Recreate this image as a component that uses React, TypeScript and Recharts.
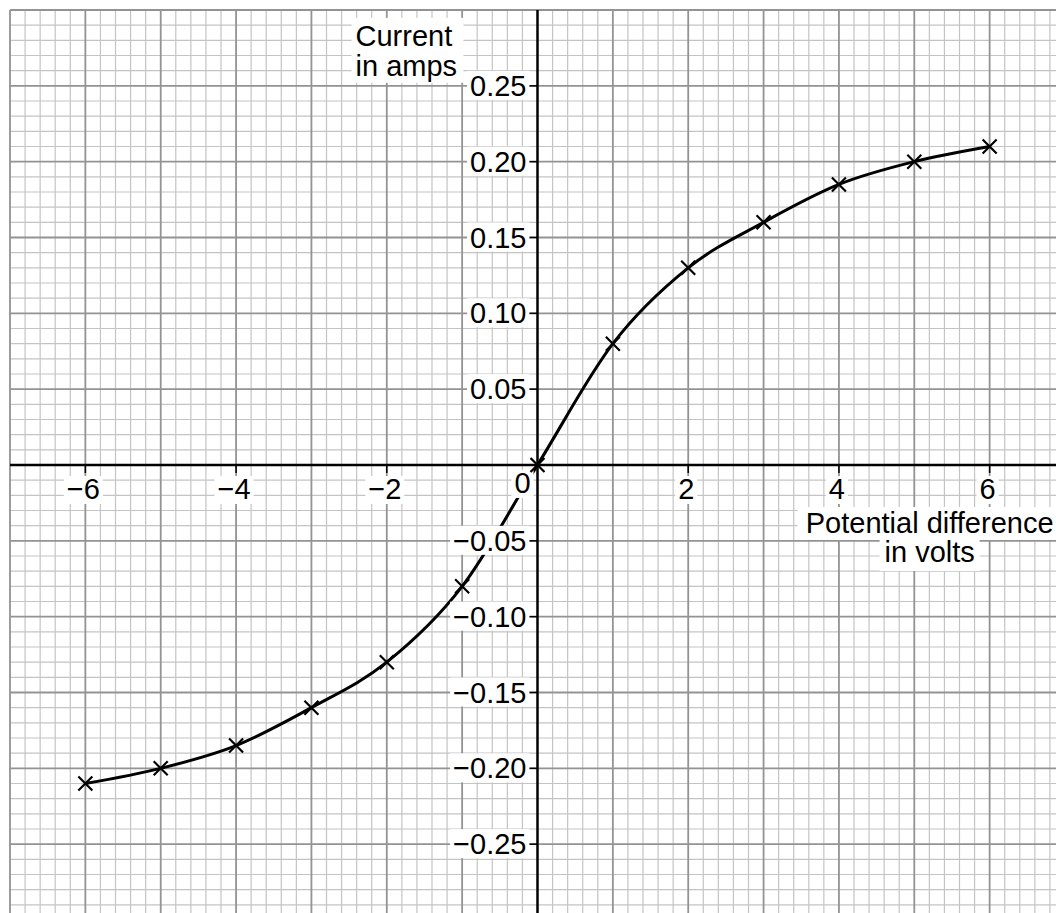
import React from "react";
import { ComposedChart, Line, XAxis, YAxis, ReferenceLine, ReferenceDot } from "recharts";

// Data
const voltages = [-6, -5, -4, -3, -2, -1, 0, 1, 2, 3, 4, 5, 6];
const currents = [-0.21, -0.2, -0.185, -0.16, -0.13, -0.08, 0, 0.08, 0.13, 0.16, 0.185, 0.2, 0.21];

// Axis ticks and labels
const xTickValues = [-6, -4, -2, 0, 2, 4, 6];
const xTickLabels = ["\u22126", "\u22124", "\u22122", "0", "2", "4", "6"];
const yTickValues = [0.25, 0.2, 0.15, 0.1, 0.05, -0.05, -0.1, -0.15, -0.2, -0.25];
const yTickLabels = ["0.25", "0.20", "0.15", "0.10", "0.05", "\u22120.05", "\u22120.10", "\u22120.15", "\u22120.20", "\u22120.25"];

const X_DOMAIN: [number, number] = [-7, 7];
const Y_DOMAIN: [number, number] = [-0.3, 0.3];

// grid paper lines
const xMinor: number[] = [];
for (let i = -35; i <= 35; i++) if (i % 5 !== 0) xMinor.push(i / 5);
const xMajor: number[] = [];
for (let i = -7; i <= 7; i++) xMajor.push(i);
const yMinor: number[] = [];
for (let i = -30; i <= 30; i++) if (i % 5 !== 0) yMinor.push(i / 100);
const yMajor: number[] = [];
for (let i = -6; i <= 6; i++) yMajor.push(i / 20);

const data = voltages.map((v, i) => ({ v, c: currents[i] }));

const FONT = "'Liberation Sans', Arial, sans-serif";
const FS = 29;
const charW = (ch: string) => (ch === "." ? 0.278 : ch === "\u2212" ? 0.584 : 0.556);
const textWidth = (s: string) => s.split("").reduce((a, ch) => a + charW(ch), 0) * FS;

const MINOR = "#c4c4c4";
const MAJOR = "#939393";

const Cross = (props: any) => {
  const { cx, cy } = props;
  if (cx == null || cy == null) return null;
  const s = 7;
  return (
    <path
      d={`M${cx - s},${cy - s}L${cx + s},${cy + s}M${cx + s},${cy - s}L${cx - s},${cy + s}`}
      stroke="#000"
      strokeWidth={2.2}
      fill="none"
    />
  );
};

const makeXTick = (label: string, value: number) => (props: any) => {
  const { cx, cy } = props;
  const w = textWidth(label);
  const isZero = value === 0;
  const tx = isZero ? cx - 15 : cx - 2;
  const base = isZero ? cy + 28 : cy + 34;
  return (
    <g>
      <rect x={tx - w / 2 - 3} y={base - 23} width={w + 6} height={28} fill="#fff" />
      {!isZero && <line x1={cx} y1={cy} x2={cx} y2={cy + 8} stroke="#000" strokeWidth={1.5} />}
      <text x={tx} y={base} textAnchor="middle" fontFamily={FONT} fontSize={FS} fill="#000">
        {label}
      </text>
    </g>
  );
};

const makeYTick = (label: string) => (props: any) => {
  const { cx, cy } = props;
  const w = textWidth(label);
  const right = cx - 11;
  return (
    <g>
      <rect x={right - w - 3} y={cy - 15} width={w + 6} height={29} fill="#fff" />
      <line x1={cx - 8} y1={cy} x2={cx} y2={cy} stroke="#000" strokeWidth={1.5} />
      <text x={right} y={cy + 10} textAnchor="end" fontFamily={FONT} fontSize={FS} fill="#000">
        {label}
      </text>
    </g>
  );
};

const YTitle = (props: any) => {
  const { cx, cy } = props;
  const left = cx - 182;
  return (
    <g>
      <rect x={left - 4} y={cy - 68} width={112} height={65} fill="#fff" />
      <text x={left} y={cy - 40} fontFamily={FONT} fontSize={FS} fill="#000">Current</text>
      <text x={left} y={cy - 10} fontFamily={FONT} fontSize={FS} fill="#000">in amps</text>
    </g>
  );
};

const XTitle = (props: any) => {
  const { cx, cy } = props;
  const mid = cx - 60;
  return (
    <g>
      <rect x={mid - 132} y={cy + 42} width={264} height={33} fill="#fff" />
      <rect x={mid - 50} y={cy + 75} width={100} height={31} fill="#fff" />
      <text x={mid} y={cy + 68} textAnchor="middle" fontFamily={FONT} fontSize={FS} fill="#000">
        Potential difference
      </text>
      <text x={mid} y={cy + 97} textAnchor="middle" fontFamily={FONT} fontSize={FS} fill="#000">
        in volts
      </text>
    </g>
  );
};

export default function App() {
  return (
    <div
      style={{
        position: "fixed",
        left: 0,
        top: 0,
        width: 1056,
        height: 913,
        overflow: "hidden",
        background: "#fff",
      }}
    >
      <ComposedChart
        width={1070}
        height={925}
        data={data}
        margin={{ top: 10, right: 5, bottom: 5, left: 10 }}
      >
        <XAxis dataKey="v" type="number" domain={X_DOMAIN} hide allowDataOverflow />
        <YAxis type="number" domain={Y_DOMAIN} hide allowDataOverflow />
        {xMinor.map((x) => (
          <ReferenceLine key={`xm${x}`} x={x} stroke={MINOR} strokeWidth={1.2} ifOverflow="visible" />
        ))}
        {yMinor.map((y) => (
          <ReferenceLine key={`ym${y}`} y={y} stroke={MINOR} strokeWidth={1.2} ifOverflow="visible" />
        ))}
        {xMajor.map((x) => (
          <ReferenceLine key={`xM${x}`} x={x} stroke={MAJOR} strokeWidth={1.8} ifOverflow="visible" />
        ))}
        {yMajor.map((y) => (
          <ReferenceLine key={`yM${y}`} y={y} stroke={MAJOR} strokeWidth={1.8} ifOverflow="visible" />
        ))}
        {xTickValues.map((x, i) => (
          <ReferenceDot key={`xt${x}`} x={x} y={0} r={0} shape={makeXTick(xTickLabels[i], x)} ifOverflow="visible" />
        ))}
        {yTickValues.map((y, i) => (
          <ReferenceDot key={`yt${y}`} x={0} y={y} r={0} shape={makeYTick(yTickLabels[i])} ifOverflow="visible" />
        ))}
        <ReferenceDot x={0} y={0.25} r={0} shape={YTitle} ifOverflow="visible" />
        <ReferenceDot x={6} y={0} r={0} shape={XTitle} ifOverflow="visible" />
        <ReferenceLine x={0} stroke="#000" strokeWidth={2.4} ifOverflow="visible" />
        <ReferenceLine y={0} stroke="#000" strokeWidth={2.4} ifOverflow="visible" />
        <Line
          dataKey="c"
          type="monotone"
          stroke="#000"
          strokeWidth={3}
          dot={<Cross />}
          activeDot={false}
          isAnimationActive={false}
        />
      </ComposedChart>
    </div>
  );
}
